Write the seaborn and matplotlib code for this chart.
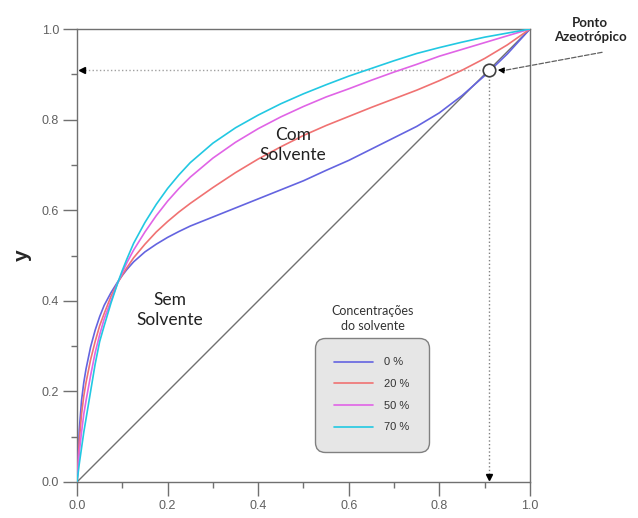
import numpy as np
import pandas as pd
import matplotlib
matplotlib.use("Agg")
import matplotlib.pyplot as plt
import seaborn as sns

# Dados (fração molar x -> y)
x_liq = [0.0, 0.005, 0.01, 0.015, 0.02, 0.03, 0.04, 0.05, 0.06, 0.075, 0.09,
         0.1, 0.11, 0.125, 0.15, 0.175, 0.2, 0.225, 0.25, 0.3, 0.35, 0.4,
         0.45, 0.5, 0.55, 0.6, 0.65, 0.7, 0.75, 0.8, 0.85, 0.9, 0.95, 1.0]
y_0 = [0.0, 0.115, 0.18, 0.22, 0.25, 0.298, 0.335, 0.365, 0.39, 0.418, 0.442,
       0.456, 0.469, 0.486, 0.508, 0.525, 0.54, 0.553, 0.565, 0.585, 0.605,
       0.625, 0.645, 0.665, 0.688, 0.71, 0.735, 0.76, 0.785, 0.815, 0.853,
       0.897, 0.945, 1.0]
y_20 = [0.0, 0.09, 0.15, 0.19, 0.22, 0.27, 0.31, 0.345, 0.372, 0.41, 0.44,
        0.457, 0.473, 0.495, 0.525, 0.552, 0.575, 0.596, 0.615, 0.65, 0.683,
        0.713, 0.74, 0.765, 0.787, 0.807, 0.827, 0.846, 0.865, 0.886, 0.909,
        0.935, 0.965, 1.0]
y_50 = [0.0, 0.065, 0.11, 0.15, 0.18, 0.235, 0.285, 0.325, 0.36, 0.40, 0.44,
        0.462, 0.484, 0.512, 0.552, 0.588, 0.62, 0.648, 0.673, 0.715, 0.75,
        0.78, 0.806, 0.829, 0.85, 0.868, 0.887, 0.905, 0.922, 0.94, 0.955,
        0.97, 0.985, 1.0]
y_70 = [0.0, 0.04, 0.075, 0.11, 0.14, 0.20, 0.26, 0.31, 0.345, 0.395, 0.44,
        0.467, 0.492, 0.527, 0.573, 0.613, 0.648, 0.678, 0.705, 0.748, 0.782,
        0.81, 0.835, 0.857, 0.877, 0.896, 0.913, 0.93, 0.946, 0.959, 0.971,
        0.982, 0.991, 1.0]
concentracoes = ["0 %", "20 %", "50 %", "70 %"]
cores = ["#6464e0", "#f07272", "#e064e6", "#22c8e2"]
diag = [0.0, 1.0]
az_x, az_y = 0.91, 0.91

df = pd.concat([
    pd.DataFrame({"x": x_liq, "y": ys, "conc": c})
    for ys, c in zip([y_0, y_20, y_50, y_70], concentracoes)
])

sns.set_style("white")
plt.rcParams["font.family"] = ["Liberation Sans", "DejaVu Sans"]

fig = plt.figure(figsize=(6.38, 5.18), dpi=100)
ax = fig.add_axes([0.1207, 0.0695, 0.71, 0.8745])

# diagonal y = x
ax.plot(diag, diag, color="#707070", lw=1.0, zorder=1)

sns.lineplot(data=df, x="x", y="y", hue="conc", palette=cores, sort=False,
             lw=1.2, ax=ax, zorder=3)

# ponto azeotrópico e linhas pontilhadas
ax.plot([0.008, az_x - 0.012], [az_y, az_y], ls=":", color="#a0a0a0", lw=1.0)
ax.plot([az_x, az_x], [0.008, az_y - 0.012], ls=":", color="#808080", lw=1.0)
ax.plot([0.012], [az_y], marker="<", color="black", ms=4.5, ls="none")
ax.plot([az_x], [0.012], marker="v", color="black", ms=4.5, ls="none")
ax.plot([az_x], [az_y], marker="o", ms=9, mfc="white", mec="#404040",
        mew=1.2, ls="none", zorder=5)

# seta até o rótulo
ax.annotate("", xy=(az_x + 0.03, az_y - 0.002), xytext=(0.948, 0.9),
            xycoords="data", textcoords="figure fraction",
            arrowprops=dict(arrowstyle="-", ls="--", color="#606060", lw=0.9))
ax.annotate("", xy=(az_x + 0.013, az_y), xytext=(az_x + 0.04, az_y - 0.002),
            arrowprops=dict(arrowstyle="-|>", color="black", lw=0.8,
                            mutation_scale=9))
fig.text(0.925, 0.942, "Ponto\nAzeotrópico", ha="center", va="center",
         fontsize=9.5, fontweight="bold", family="Lato", linespacing=1.2)

ax.text(0.477, 0.744, "Com\nSolvente", ha="center", va="center",
        fontsize=12.5, family="Lato", color="#222222", linespacing=1.35)
ax.text(0.205, 0.38, "Sem\nSolvente", ha="center", va="center",
        fontsize=12.5, family="Lato", color="#222222", linespacing=1.35)

# legenda
leg = ax.legend(loc="upper left", bbox_to_anchor=(0.525, 0.318),
                borderaxespad=0, fontsize=8, borderpad=1.75, labelspacing=1.05,
                handlelength=3.5, handletextpad=1.0, fancybox=True,
                framealpha=1, facecolor="#e6e6e6", edgecolor="#808080")
leg.get_frame().set_boxstyle("round,pad=0,rounding_size=0.9")
leg.get_frame().set_linewidth(1.0)
for t in leg.get_texts():
    t.set_color("#333333")
ax.text(0.653, 0.362, "Concentrações\ndo solvente", ha="center", va="center",
        fontsize=9, family="Lato", color="#333333", linespacing=1.3)

ax.set_xlim(0, 1)
ax.set_ylim(0, 1)
ax.set_xticks(np.arange(0, 1.01, 0.2))
ax.set_yticks(np.arange(0, 1.01, 0.2))
ax.set_xticks(np.arange(0.1, 1.0, 0.2), minor=True)
ax.set_yticks(np.arange(0.1, 1.0, 0.2), minor=True)
ax.xaxis.set_major_formatter(matplotlib.ticker.FormatStrFormatter("%.1f"))
ax.yaxis.set_major_formatter(matplotlib.ticker.FormatStrFormatter("%.1f"))
ax.tick_params(which="major", direction="out", length=10, width=1.0,
               color="#707070", labelcolor="#606060", labelsize=9, pad=3,
               bottom=True, left=True)
ax.tick_params(which="minor", direction="out", length=4.5, width=1.0,
               color="#707070", bottom=True, left=True)
for s in ax.spines.values():
    s.set_color("#707070")
    s.set_linewidth(1.0)

ax.set_xlabel("")
ax.set_ylabel("y", fontsize=15, fontweight="bold", rotation=90)
ax.yaxis.set_label_coords(-0.099, 0.5)

fig.savefig("out.png", dpi=100)
